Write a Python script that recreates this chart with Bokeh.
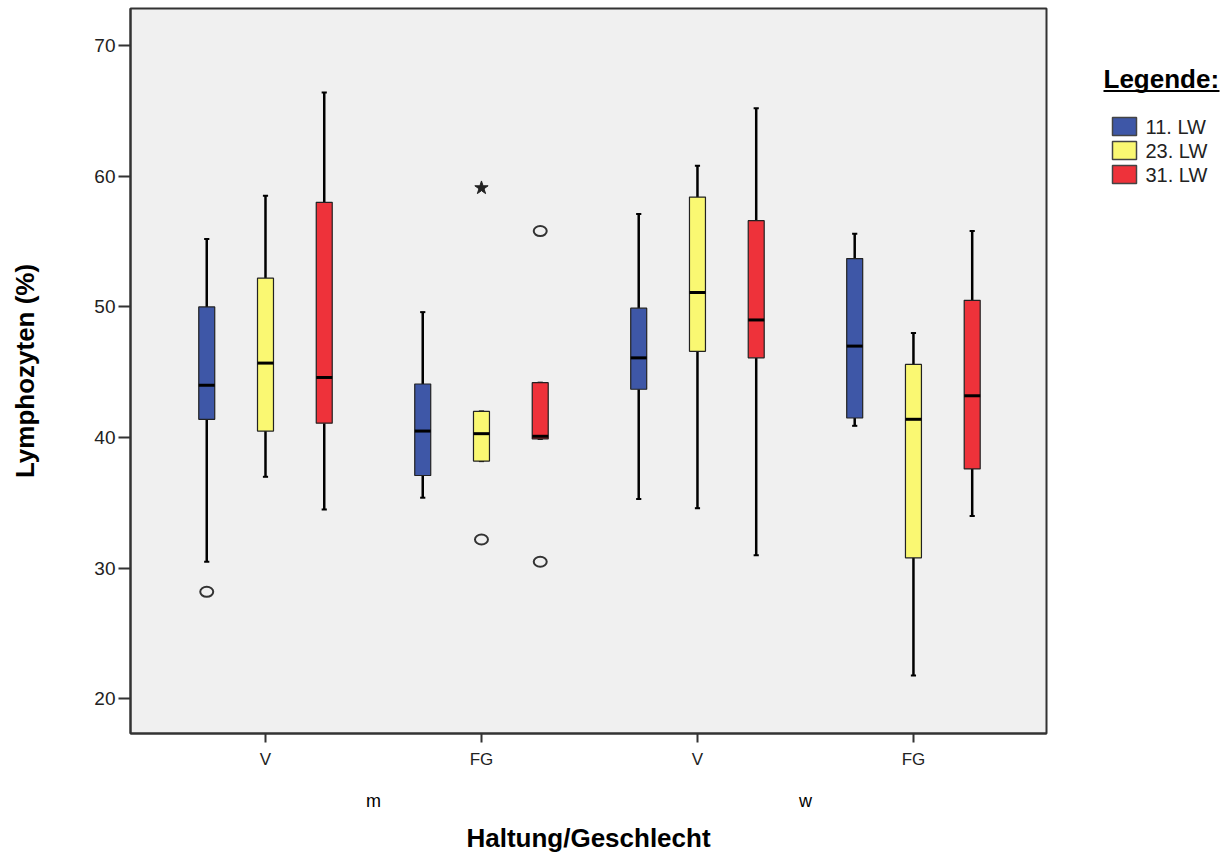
from bokeh.plotting import figure
from bokeh.layouts import row
from bokeh.models import ColumnDataSource, FixedTicker, LinearAxis, Range1d
from bokeh.core.properties import value
from bokeh.embed import file_html
from bokeh.resources import INLINE

# ---------------- data ----------------
haltung = ["V", "FG", "V", "FG"]
geschlecht = ["m", "w"]
series = ["11. LW", "23. LW", "31. LW"]

lw_11 = [30.5, 35.4, 35.3, 40.9]
q1_11 = [41.4, 37.1, 43.7, 41.5]
med_11 = [44.0, 40.5, 46.1, 47.0]
q3_11 = [50.0, 44.1, 49.9, 53.7]
uw_11 = [55.2, 49.6, 57.1, 55.6]

lw_23 = [37.0, 38.2, 34.6, 21.8]
q1_23 = [40.5, 38.2, 46.6, 30.8]
med_23 = [45.7, 40.3, 51.1, 41.4]
q3_23 = [52.2, 42.0, 58.4, 45.6]
uw_23 = [58.5, 42.0, 60.8, 48.0]

lw_31 = [34.5, 39.9, 31.0, 34.0]
q1_31 = [41.1, 39.9, 46.1, 37.6]
med_31 = [44.6, 40.1, 49.0, 43.2]
q3_31 = [58.0, 44.2, 56.6, 50.5]
uw_31 = [66.4, 44.2, 65.2, 55.8]

# outliers (group index, series index, value)
out_group = [0, 1, 1, 1]
out_series = [0, 1, 2, 2]
out_value = [28.2, 32.2, 55.8, 30.5]
ext_group = [1]
ext_series = [1]
ext_value = [59.1]

y_ticks = [20, 30, 40, 50, 60, 70]

# ---------------- styling ----------------
colors = ["#3E57A7", "#FAF872", "#EE323A"]
offsets = [-0.272, 0.0, 0.272]
box_w = 0.074
cap_w = 0.012
FONT = "Liberation Sans"
DARK = "#333333"

stats = [
    (lw_11, q1_11, med_11, q3_11, uw_11),
    (lw_23, q1_23, med_23, q3_23, uw_23),
    (lw_31, q1_31, med_31, q3_31, uw_31),
]

p = figure(frame_width=916, frame_height=725,
           x_range=Range1d(-0.625, 3.616), y_range=Range1d(17.36, 72.83),
           output_backend="svg", toolbar_location=None,
           min_border_left=130, min_border_right=4,
           min_border_top=8, min_border_bottom=119,
           background_fill_color="#F0F0F0", border_fill_color="white")
p.xgrid.visible = False
p.ygrid.visible = False
p.outline_line_color = DARK
p.outline_line_width = 2

# y axis
p.yaxis.ticker = FixedTicker(ticks=y_ticks)
p.yaxis.minor_tick_line_color = None
p.yaxis.major_tick_in = 0
p.yaxis.major_tick_out = 12
p.yaxis.major_tick_line_color = DARK
p.yaxis.major_tick_line_width = 2
p.yaxis.axis_line_color = DARK
p.yaxis.axis_line_width = 2
p.yaxis.major_label_standoff = 3
p.yaxis.major_label_text_font = FONT
p.yaxis.major_label_text_font_size = "19px"
p.yaxis.major_label_text_color = "#222222"
p.yaxis.axis_label = "Lymphozyten (%)"
p.yaxis.axis_label_text_font = FONT
p.yaxis.axis_label_text_font_style = "bold"
p.yaxis.axis_label_text_font_size = "26px"
p.yaxis.axis_label_text_color = "black"
p.yaxis.axis_label_standoff = 51

# x axis (Haltung)
p.xaxis.ticker = FixedTicker(ticks=list(range(len(haltung))))
p.xaxis.major_label_overrides = {i: h for i, h in enumerate(haltung)}
p.xaxis.minor_tick_line_color = None
p.xaxis.major_tick_in = 0
p.xaxis.major_tick_out = 9
p.xaxis.major_tick_line_color = DARK
p.xaxis.major_tick_line_width = 2
p.xaxis.axis_line_color = DARK
p.xaxis.axis_line_width = 2
p.xaxis.major_label_standoff = 7
p.xaxis.major_label_text_font = FONT
p.xaxis.major_label_text_font_size = "17px"
p.xaxis.major_label_text_color = "#222222"

# second x axis (Geschlecht)
sex_pos = [0.5, 2.5]
ax2 = LinearAxis(ticker=FixedTicker(ticks=sex_pos),
                 major_label_overrides={sp: g for sp, g in zip(sex_pos, geschlecht)},
                 axis_line_color=None, major_tick_line_color=None,
                 minor_tick_line_color=None, major_tick_out=0, major_tick_in=0,
                 major_label_standoff=19,
                 major_label_text_font=FONT, major_label_text_font_size="18px",
                 major_label_text_color="black",
                 axis_label="Haltung/Geschlecht", axis_label_text_font=FONT,
                 axis_label_text_font_style="bold", axis_label_text_font_size="26px",
                 axis_label_text_color="black", axis_label_standoff=9)
p.add_layout(ax2, "below")

for s, (lw, q1, med, q3, uw) in enumerate(stats):
    xs = [g + offsets[s] for g in range(len(haltung))]
    src = ColumnDataSource(dict(
        x=xs, lw=lw, q1=q1, med=med, q3=q3, uw=uw,
        left=[x - box_w / 2 for x in xs], right=[x + box_w / 2 for x in xs],
        cl=[x - cap_w for x in xs], cr=[x + cap_w for x in xs],
    ))
    p.segment(x0="x", y0="q3", x1="x", y1="uw", source=src, line_color="black", line_width=2.5)
    p.segment(x0="x", y0="lw", x1="x", y1="q1", source=src, line_color="black", line_width=2.5)
    p.segment(x0="cl", y0="uw", x1="cr", y1="uw", source=src, line_color="black", line_width=2)
    p.segment(x0="cl", y0="lw", x1="cr", y1="lw", source=src, line_color="black", line_width=2)
    p.quad(left="left", right="right", bottom="q1", top="q3", source=src,
           fill_color=colors[s], line_color="#222222", line_width=1.2)
    p.segment(x0="left", y0="med", x1="right", y1="med", source=src,
              line_color="black", line_width=3)

ox = [g + offsets[s] for g, s in zip(out_group, out_series)]
p.ellipse(x=ox, y=out_value, width=13, height=10, width_units="screen",
          height_units="screen", fill_color=None, line_color=DARK, line_width=2)
ex = [g + offsets[s] for g, s in zip(ext_group, ext_series)]
p.scatter(x=ex, y=ext_value, marker="star", size=14, fill_color="#222222",
          line_color="#222222")

# ---------------- legend panel (pixel layout) ----------------
LW, LH = 178, 852
leg = figure(title=None, frame_width=LW, frame_height=LH, x_range=Range1d(0, LW),
             y_range=Range1d(LH, 0), x_axis_type=None, y_axis_type=None,
             output_backend="svg", toolbar_location=None,
             min_border=0, outline_line_color=None,
             background_fill_color="white", border_fill_color="white")
leg.xgrid.visible = False
leg.ygrid.visible = False

title_x, title_mid = 53, 70
leg.text(x=[title_x], y=[title_mid], text=["Legende:"], text_font=value(FONT),
         text_font_style="bold", text_font_size=value("26px"),
         text_color="black", text_baseline="middle", text_align="left")
leg.segment(x0=[title_x], y0=[title_mid + 12.5], x1=[title_x + 116], y1=[title_mid + 12.5],
            line_color="black", line_width=2)

item_y0, item_dy = 118, 24
sq_x, sq_w, sq_h = 74, 24, 18
ys = [item_y0 + i * item_dy for i in range(len(series))]
leg.rect(x=[sq_x] * len(series), y=ys, width=sq_w, height=sq_h,
         fill_color=colors, line_color="#444444", line_width=1.5)
leg.text(x=[sq_x + sq_w / 2 + 9] * len(series), y=ys, text=series,
         text_font=value(FONT), text_font_size=value("20px"),
         text_color="#222222", text_baseline="middle", text_align="left")

layout = row(p, leg)
open("out.html", "w").write(file_html(layout, INLINE))
